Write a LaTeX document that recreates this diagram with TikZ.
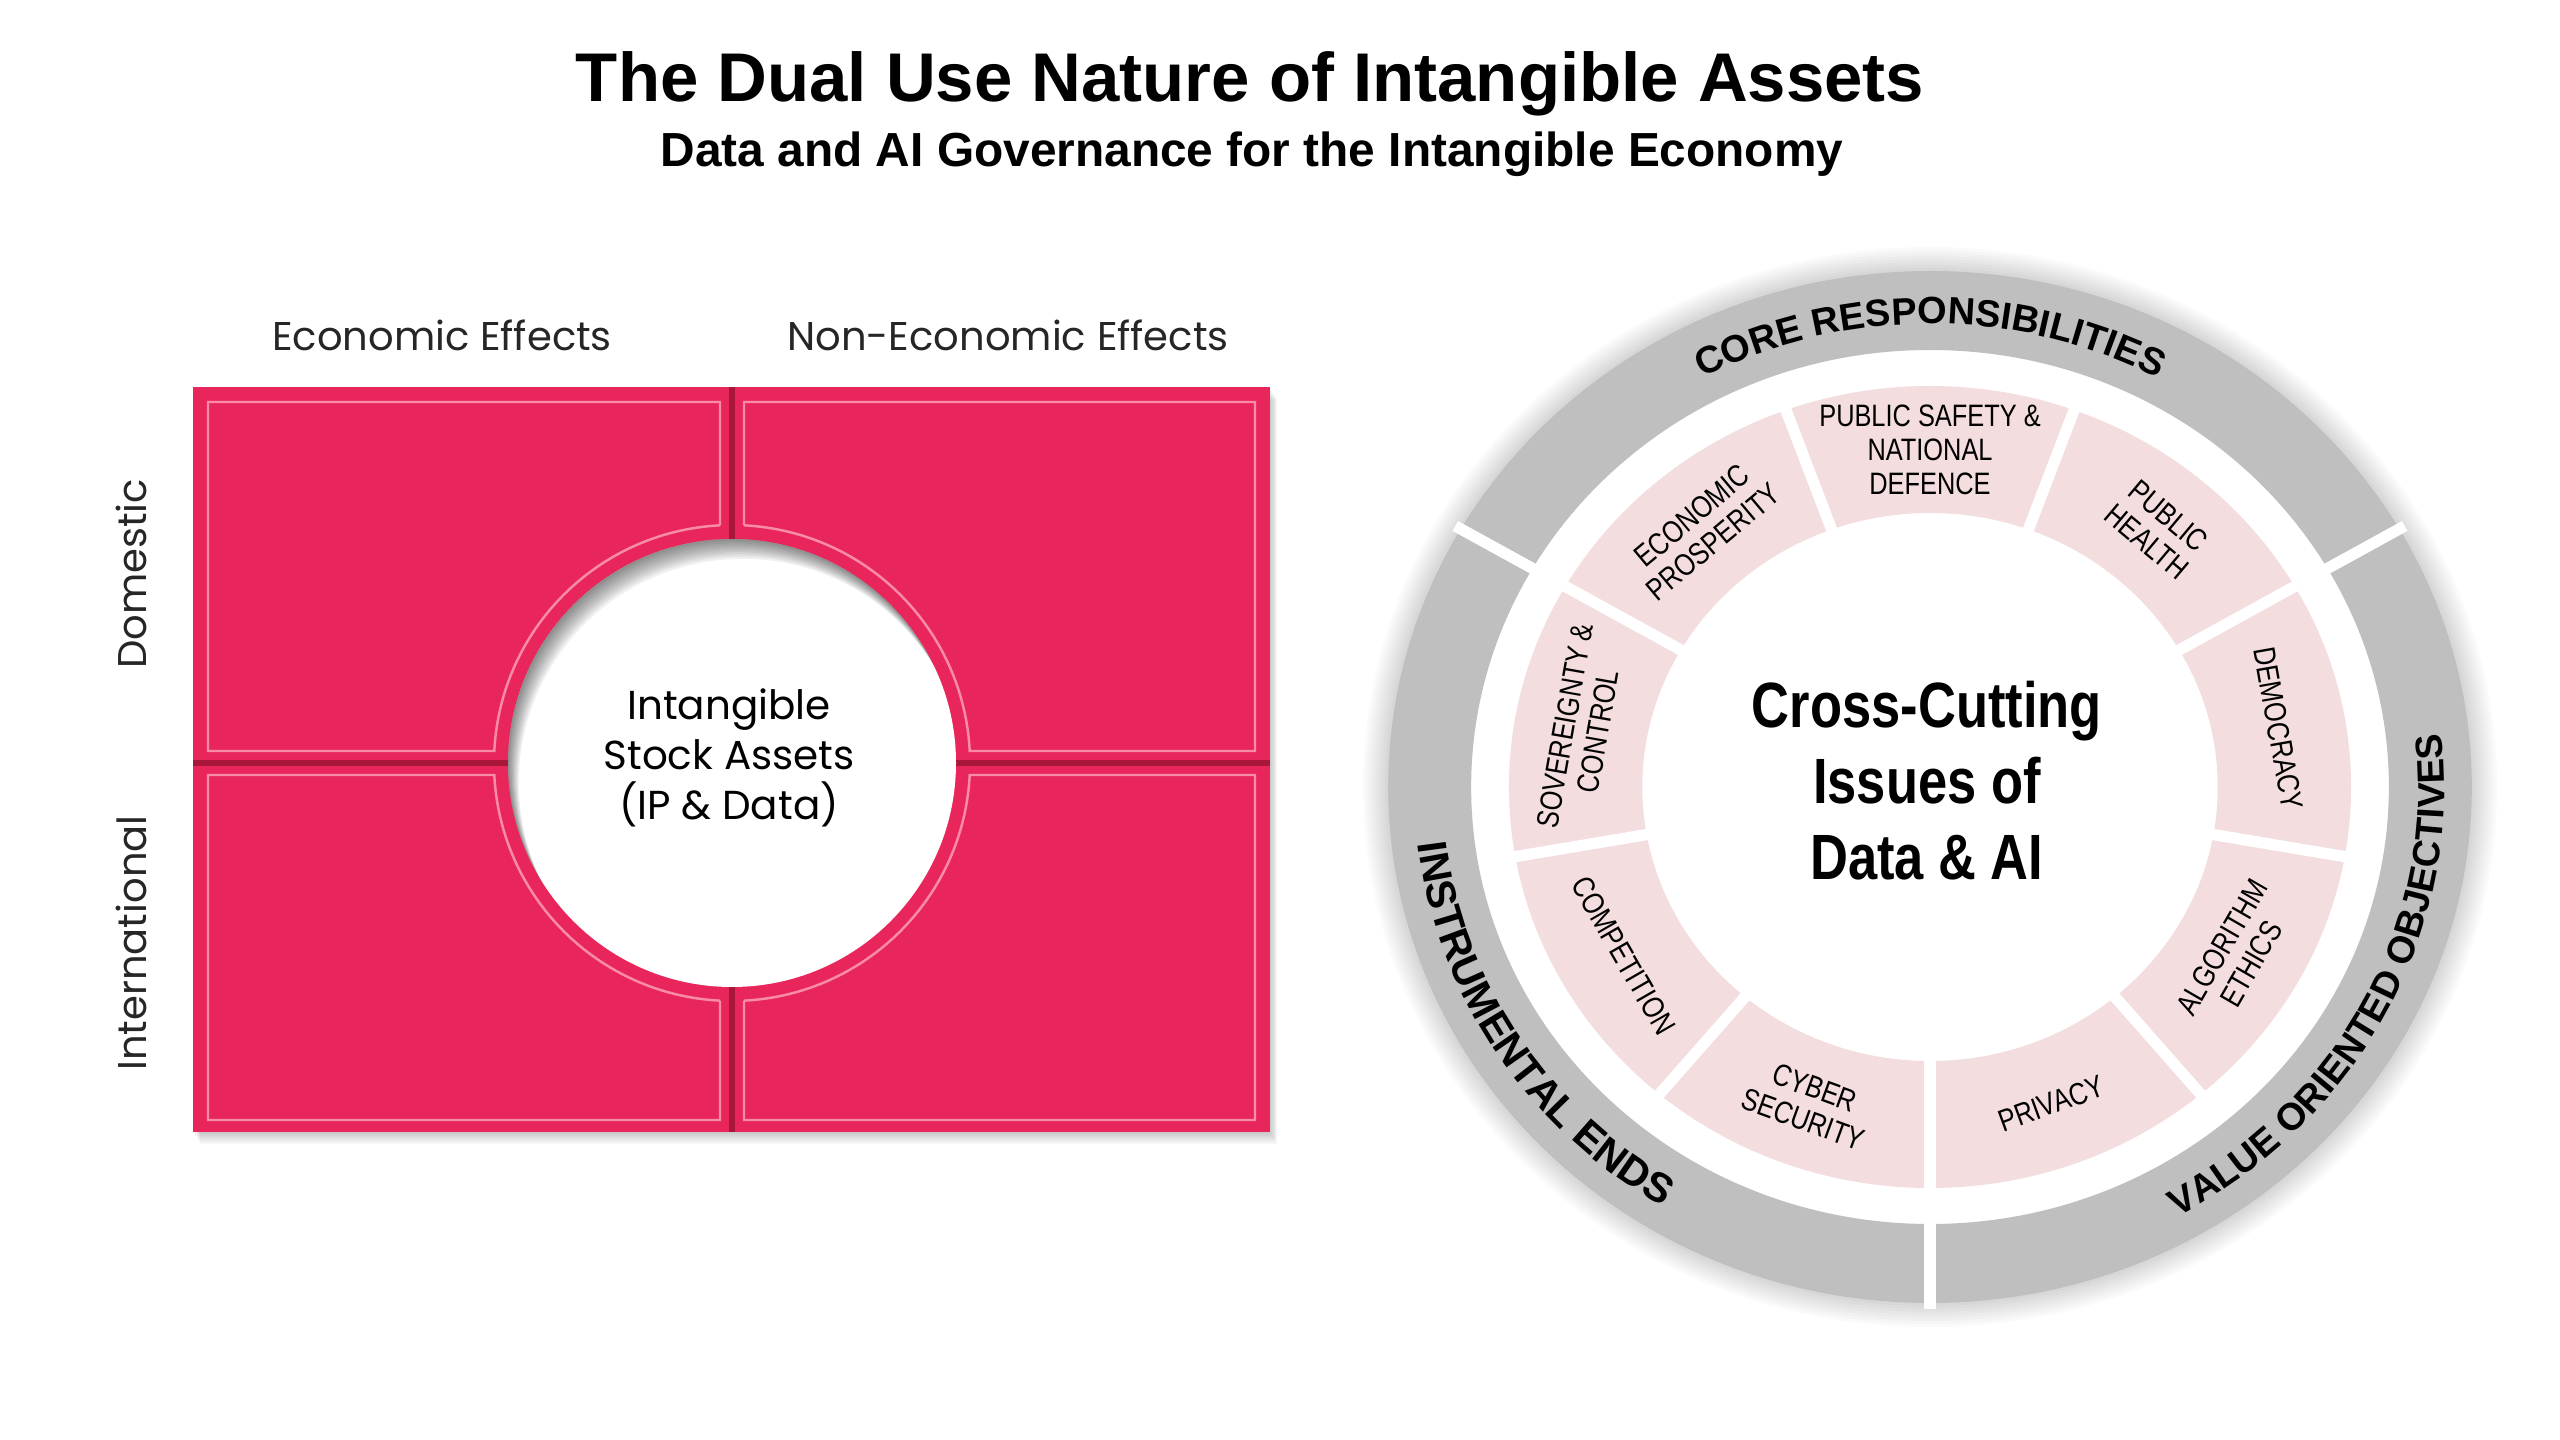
\documentclass[tikz,border=0pt]{standalone}
\usepackage{fontspec}
\setmainfont{Liberation Sans}
\newfontfamily\narrowfont[FakeStretch=0.82]{Liberation Sans}
\newfontfamily\geofont{Poppins}
\usetikzlibrary{calc,decorations.text}

\definecolor{quadpink}{RGB}{233,38,91}
\definecolor{quadline}{RGB}{248,140,165}
\definecolor{quadseam}{RGB}{168,22,58}
\definecolor{ringgray}{RGB}{191,191,191}
\definecolor{segpink}{RGB}{243,221,222}

\tikzset{
  axislabel/.style={font=\geofont\fontsize{11.4}{14}\selectfont, text=black!85, inner sep=0pt},
  seglabel/.style={font=\narrowfont\fontsize{8.8}{9.6}\selectfont, align=center, inner sep=0pt},
  seamline/.style={white, line width=3.2pt},
  groove/.style={quadseam, line width=1.6pt},
}
\newcommand{\ringfont}{\bfseries\fontsize{10.8}{13}\selectfont}

\begin{document}
\begin{tikzpicture}[x=0.01cm, y=0.01cm]
  \useasboundingbox (0,0) rectangle (2560,-1440);
  \fill[white] (0,0) rectangle (2560,-1440);

  \node (title) [anchor=base, font=\bfseries\fontsize{19.6}{23}\selectfont] at (1250,-102)
        {The Dual Use Nature of Intangible Assets};
  \node (subtitle) [anchor=base, font=\bfseries\fontsize{13.6}{16}\selectfont] at (1252,-167)
        {Data and AI Governance for the Intangible Economy};

  % left: four quadrants round the stock assets
  \coordinate (hub) at (732,-763);
  \foreach \i in {1,...,6}
    \fill[black, opacity=0.035] (193+\i*1.2,-387-\i*2) rectangle (1270+\i*1.2,-1132-\i*2);
  \fill[quadpink] (193,-387) rectangle (1270,-1132);
  \draw[groove] (732,-387) -- (732,-539);
  \draw[groove] (732,-987) -- (732,-1132);
  \draw[groove] (193,-763) -- (508,-763);
  \draw[groove] (956,-763) -- (1270,-763);
  \foreach \sx/\sy/\qw/\qh/\qa/\qb in {-1/1/524/361/177.1/92.9, 1/1/523/361/2.9/87.1,
                                       1/-1/523/357/-2.9/-87.1, -1/-1/524/357/-177.1/-92.9}
    \draw[quadline, line width=0.7pt]
      ($(hub)+(\sx*12,\sy*237.7)$) -- ($(hub)+(\sx*12,\sy*\qh)$) -- ($(hub)+(\sx*\qw,\sy*\qh)$)
      -- ($(hub)+(\sx*\qw,\sy*12)$) -- ($(hub)+(\sx*237.7,\sy*12)$)
      arc[start angle=\qa, end angle=\qb, radius=238];
  \fill[white] (hub) circle (224);
  \begin{scope}
    \clip (hub) circle (224);
    \foreach \i in {1,...,9}
      \fill[black, opacity=0.06, even odd rule] (hub) circle (240) ($(hub)+(1.2*\i,-2.2*\i)$) circle (224);
  \end{scope}
  \node (stock) [font=\geofont\fontsize{11.5}{14.2}\selectfont, align=center] at (729,-758)
        {Intangible\\Stock Assets\\(IP \& Data)};

  \node (econ) [axislabel, anchor=base] at (442,-351) {Economic Effects};
  \node (nonecon) [axislabel, anchor=base] at (1008,-351) {Non-Economic Effects};
  \node (domestic) [axislabel, rotate=90] at (131,-574) {Domestic};
  \node (intl) [axislabel, rotate=90] at (131,-943) {International};

  % right: wheel of cross-cutting issues
  \begin{scope}[shift={(1930,-787)}, xscale=1.05]
    \foreach \i in {1,...,8}
      \fill[black, opacity=0.02, even odd rule] (0,0) circle ({516+3*\i}) (0,0) circle (510);
    \fill[ringgray, even odd rule] (0,0) circle (516) (0,0) circle (437);
    \foreach \t in {30,150,270}
      \draw[seamline] (\t:430) -- (\t:522);
    \fill[segpink, even odd rule] (0,0) circle (401) (0,0) circle (274);
    \foreach \t in {30,70,...,350}
      \draw[seamline] (\t:268) -- (\t:407);

    \path[decorate, decoration={text along path, text align=center,
          text={|\ringfont|CORE RESPONSIBILITIES}}]
          (150:463) arc[start angle=150, end angle=30, radius=463];
    \path[decorate, decoration={text along path, text align=center,
          text={|\bfseries\fontsize{11.8}{14}\selectfont|INSTRUMENTAL ENDS}}]
          (152:491) arc[start angle=152, end angle=272, radius=491];
    \path[decorate, decoration={text along path, text align=center,
          text={|\ringfont|VALUE ORIENTED OBJECTIVES}}]
          (273:490) arc[start angle=273, end angle=393, radius=490];

    \node (issues) [font=\narrowfont\bfseries\fontsize{18.2}{21.6}\selectfont, align=center] at (-3,6)
          {Cross-Cutting\\Issues of\\Data \& AI};

    \node (safety) [seglabel] at (90:337) {PUBLIC SAFETY \&\\NATIONAL\\DEFENCE};
    \node (health) [seglabel, rotate=-40] at (50:337) {PUBLIC\\HEALTH};
    \node (democracy) [seglabel, rotate=-80] at (10:337) {DEMOCRACY};
    \node (algorithm) [seglabel, rotate=60] at (330:337) {ALGORITHM\\ETHICS};
    \node (privacy) [seglabel, rotate=20] at (290:337) {PRIVACY};
    \node (cyber) [seglabel, rotate=-20] at (250:337) {CYBER\\SECURITY};
    \node (competition) [seglabel, rotate=-60] at (210:337) {COMPETITION};
    \node (sovereignty) [seglabel, rotate=80] at (170:337) {SOVEREIGNTY \&\\CONTROL};
    \node (prosperity) [seglabel, rotate=40] at (130:337) {ECONOMIC\\PROSPERITY};
  \end{scope}
\end{tikzpicture}
\end{document}
